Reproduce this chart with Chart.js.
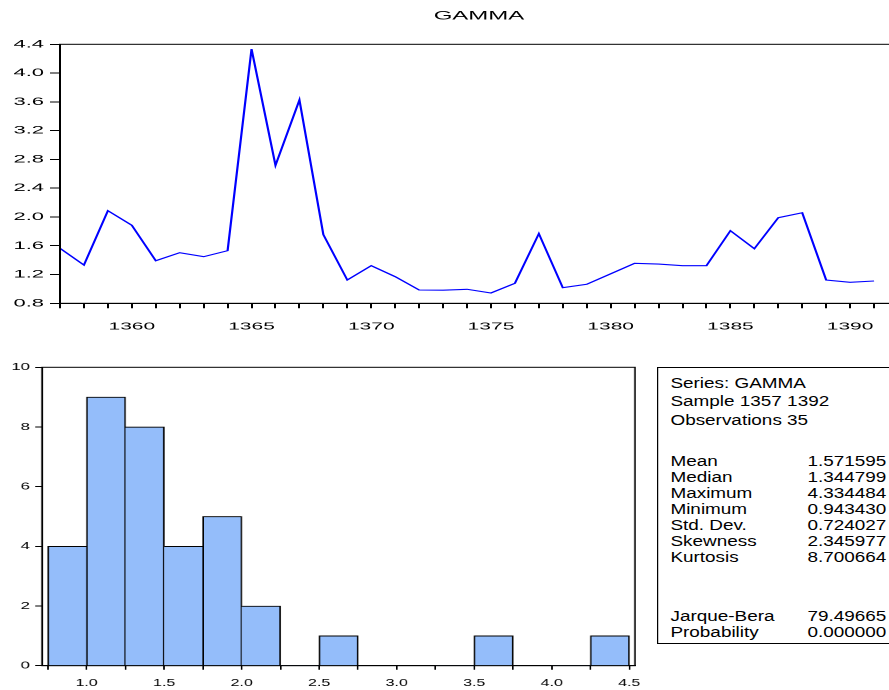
<!DOCTYPE html>
<html>
<head>
<meta charset="utf-8">
<title>GAMMA</title>
<script src="https://cdn.jsdelivr.net/npm/chart.js@4.4.1/dist/chart.umd.min.js"></script>
<style>
  html, body { margin: 0; padding: 0; background: #fff; overflow: hidden; width: 889px; height: 690px; }
  .wide { position: absolute; left: 0; transform-origin: 0 0; }
  #lineWrap { top: 0; transform: scaleX(2); }
  #histWrap { top: 350px; transform: scaleX(1.6); }
  #stats {
    position: absolute; left: 657px; top: 367px; width: 210px; height: 277px; box-sizing: border-box;
    border-left: 1.6px solid #000; border-top: 1px solid #000; border-bottom: 1px solid #000;
    transform: scaleX(1.22); transform-origin: 0 0;
    font-family: 'Liberation Sans', Arial, sans-serif; font-size: 15.5px; color: #000;
  }
  #stats .row { position: absolute; left: 0; width: 187px; height: 16px; line-height: 16px; white-space: nowrap; }
  #stats .name { position: absolute; left: 10px; top: 0; }
  #stats .val { position: absolute; right: 0; top: 0; }
</style>
</head>
<body>
<div id="lineWrap" class="wide"><canvas id="lineChart" width="479" height="340"></canvas></div>
<div id="histWrap" class="wide"><canvas id="histChart" width="410" height="340"></canvas></div>
<div id="stats"></div>
<script>
// GAMMA, annual observations
const years = [1357, 1358, 1359, 1360, 1361, 1362, 1363, 1364, 1365, 1366,
               1367, 1368, 1369, 1370, 1371, 1372, 1373, 1374, 1375, 1376,
               1377, 1378, 1379, 1380, 1381, 1382, 1383, 1384, 1385, 1386,
               1387, 1388, 1389, 1390, 1391];
const gamma = [1.565, 1.332, 2.087, 1.884, 1.392, 1.503, 1.448, 1.531, 4.334484, 2.718,
               3.626, 1.754, 1.124, 1.323, 1.170, 0.985, 0.982, 0.995, 0.943430, 1.078,
               1.768, 1.017, 1.064, 1.210, 1.356, 1.344799, 1.323, 1.323, 1.809, 1.559,
               1.990, 2.059, 1.124, 1.092, 1.110];

// Line chart axes
const axisYears = [1357, 1358, 1359, 1360, 1361, 1362, 1363, 1364, 1365, 1366, 1367, 1368,
                   1369, 1370, 1371, 1372, 1373, 1374, 1375, 1376, 1377, 1378, 1379, 1380,
                   1381, 1382, 1383, 1384, 1385, 1386, 1387, 1388, 1389, 1390, 1391, 1392];
const labeledYears = [1360, 1365, 1370, 1375, 1380, 1385, 1390];
const lineYTicks = [0.8, 1.2, 1.6, 2.0, 2.4, 2.8, 3.2, 3.6, 4.0, 4.4];

// Histogram bins (lower edges, width 0.25) and counts
const binLows = [0.75, 1.0, 1.25, 1.5, 1.75, 2.0, 2.25, 2.5, 2.75, 3.0, 3.25, 3.5, 3.75, 4.0, 4.25];
const binWidth = 0.25;
const binCounts = [4, 9, 8, 4, 5, 2, 0, 1, 0, 0, 0, 1, 0, 0, 1];
const binEdges = [0.75, 1.0, 1.25, 1.5, 1.75, 2.0, 2.25, 2.5, 2.75, 3.0, 3.25, 3.5, 3.75, 4.0, 4.25, 4.5];
const labeledEdges = [1.0, 1.5, 2.0, 2.5, 3.0, 3.5, 4.0, 4.5];
const histYTicks = [0, 2, 4, 6, 8, 10];

// Descriptive statistics panel
const headerLines = ['Series: GAMMA', 'Sample 1357 1392', 'Observations 35'];
const statNames = ['Mean', 'Median', 'Maximum', 'Minimum', 'Std. Dev.', 'Skewness', 'Kurtosis'];
const statValues = ['1.571595', '1.344799', '4.334484', '0.943430', '0.724027', '2.345977', '8.700664'];
const testNames = ['Jarque-Bera', 'Probability'];
const testValues = ['79.49665', '0.000000'];

const FONT = "'Liberation Sans', Arial, sans-serif";

// Box around the plotting area
const frame = {
  id: 'frame',
  afterDraw(chart) {
    const { ctx, chartArea: a } = chart;
    ctx.save();
    ctx.strokeStyle = '#000';
    ctx.lineWidth = 1;
    ctx.strokeRect(a.left, a.top, a.right - a.left, a.bottom - a.top);
    ctx.restore();
  }
};

const tickFont = (size) => ({ family: FONT, size: size });

new Chart(document.getElementById('lineChart'), {
  type: 'line',
  data: {
    datasets: [{
      data: years.map((y, i) => ({ x: y, y: gamma[i] })),
      borderColor: '#0000ff',
      borderWidth: 1.1,
      pointRadius: 0,
      tension: 0,
      fill: false
    }]
  },
  options: {
    responsive: false,
    devicePixelRatio: 2,
    animation: false,
    layout: { padding: { left: 0, right: 30, top: 0, bottom: 0 } },
    plugins: {
      legend: { display: false },
      tooltip: { enabled: false },
      title: {
        display: true,
        fullSize: false,
        text: 'GAMMA',
        color: '#000',
        font: { family: FONT, size: 12, weight: 'normal' },
        padding: { top: 9, bottom: 20.9 }
      }
    },
    scales: {
      x: {
        type: 'linear',
        min: 1357,
        max: 1392,
        afterBuildTicks: (s) => { s.ticks = axisYears.map(v => ({ value: v })); },
        afterFit: (s) => { s.height = 36.7; },
        ticks: {
          autoSkip: false, maxRotation: 0, padding: 12, color: '#000', font: tickFont(10.5),
          callback: (v) => labeledYears.includes(v) ? String(v) : ''
        },
        grid: { drawOnChartArea: false, tickLength: 5, tickColor: '#000', tickWidth: 1 },
        border: { color: '#000', width: 1 }
      },
      y: {
        min: 0.8,
        max: 4.4,
        afterBuildTicks: (s) => { s.ticks = lineYTicks.map(v => ({ value: v })); },
        afterFit: (s) => { s.width = 30; },
        ticks: {
          padding: 3, color: '#000', font: tickFont(11),
          callback: (v) => v.toFixed(1)
        },
        grid: { drawOnChartArea: false, tickLength: 5, tickColor: '#000', tickWidth: 1 },
        border: { color: '#000', width: 1 }
      }
    }
  },
  plugins: [frame]
});

new Chart(document.getElementById('histChart'), {
  type: 'bar',
  data: {
    datasets: [{
      data: binLows.map((lo, i) => ({ x: lo + binWidth / 2, y: binCounts[i] })),
      backgroundColor: 'rgb(148,189,250)',
      borderColor: '#000',
      borderSkipped: false,
      borderWidth: (c) => {
        const i = c.dataIndex;
        const cur = binCounts[i];
        const prev = i > 0 ? binCounts[i - 1] : 0;
        const next = i < binCounts.length - 1 ? binCounts[i + 1] : 0;
        return { top: 1, bottom: 0, left: cur > prev ? 1 : 0, right: cur >= next ? 1 : 0 };
      },
      barPercentage: 1,
      categoryPercentage: 1
    }]
  },
  options: {
    responsive: false,
    devicePixelRatio: 2,
    animation: false,
    layout: { padding: { left: 0, right: 13.125, top: 17.3, bottom: 0 } },
    plugins: { legend: { display: false }, tooltip: { enabled: false } },
    scales: {
      x: {
        type: 'linear',
        offset: false,
        min: 0.712,
        max: 4.537,
        afterBuildTicks: (s) => { s.ticks = binEdges.map(v => ({ value: v })); },
        afterFit: (s) => { s.height = 24.3; },
        ticks: {
          autoSkip: false, maxRotation: 0, padding: 7.6, color: '#000', font: tickFont(10),
          callback: (v) => labeledEdges.includes(v) ? v.toFixed(1) : ''
        },
        grid: { offset: false, drawOnChartArea: false, tickLength: 4, tickColor: '#000', tickWidth: 1 },
        border: { color: '#000', width: 1 }
      },
      y: {
        min: 0,
        max: 10,
        afterBuildTicks: (s) => { s.ticks = histYTicks.map(v => ({ value: v })); },
        afterFit: (s) => { s.width = 26.25; },
        ticks: { padding: 3.3, color: '#000', font: tickFont(10.5), callback: (v) => String(v) },
        grid: { drawOnChartArea: false, tickLength: 4.2, tickColor: '#000', tickWidth: 1 },
        border: { color: '#000', width: 1 }
      }
    }
  },
  plugins: [frame]
});

// Statistics panel text
(function buildStats() {
  const box = document.getElementById('stats');
  const tops = { header: [6.9, 25.3, 43.9], stats: 85.1, step: 16, tests: 240.3 };
  function addRow(top, name, value) {
    const row = document.createElement('div');
    row.className = 'row';
    row.style.top = top + 'px';
    const n = document.createElement('span');
    n.className = 'name';
    n.textContent = name;
    row.appendChild(n);
    if (value !== undefined) {
      const v = document.createElement('span');
      v.className = 'val';
      v.textContent = value;
      row.appendChild(v);
    }
    box.appendChild(row);
  }
  headerLines.forEach((t, i) => addRow(tops.header[i], t));
  statNames.forEach((t, i) => addRow(tops.stats + i * tops.step, t, statValues[i]));
  testNames.forEach((t, i) => addRow(tops.tests + i * tops.step, t, testValues[i]));
})();
</script>
</body>
</html>
